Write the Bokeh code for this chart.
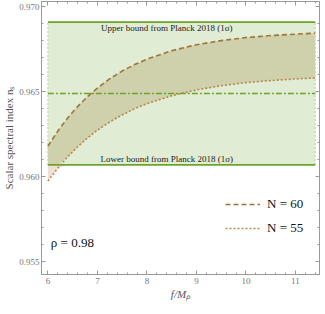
import numpy as np
from bokeh.plotting import figure
from bokeh.models import (Range1d, LinearAxis, FixedTicker, NumeralTickFormatter,
                          Legend, LegendItem, CustomJSTickFormatter)
from bokeh.core.properties import value
from bokeh.embed import file_html
from bokeh.resources import INLINE

# ---- data ----
f_over_MP = [6.0, 6.2, 6.4, 6.6, 6.8, 7.0, 7.25, 7.5, 7.75, 8.0, 8.5, 9.0, 9.5, 10.0, 10.5, 11.0, 11.4]
ns_N60 = [0.9618, 0.96269, 0.96346, 0.96413, 0.96472, 0.96522, 0.96577, 0.96622, 0.9666, 0.96692,
          0.96742, 0.96777, 0.96801, 0.96819, 0.96831, 0.96839, 0.96845]
ns_N55 = [0.95975, 0.96051, 0.96118, 0.96177, 0.96228, 0.96274, 0.96323, 0.96364, 0.964, 0.9643,
          0.96477, 0.96511, 0.96536, 0.96554, 0.96566, 0.96576, 0.96581]
planck_central = 0.9649
planck_sigma = 0.0042
x_min, x_max = 6.0, 11.4
rho_label = "ρ = 0.98"
upper_label = "Upper bound from Planck 2018 (1σ)"
lower_label = "Lower bound from Planck 2018 (1σ)"
x_ticks = [6, 7, 8, 9, 10, 11]
y_ticks = [0.955, 0.960, 0.965, 0.970]

upper = planck_central + planck_sigma
lower = planck_central - planck_sigma

GREEN = "#6ba42a"
FILL_GREEN = "#e0ecd3"
BAND = "#cfd0ac"
BAND_LOW = "#f0e0d4"
C60 = "#9c7538"
C55 = "#b9864c"
SERIF = "Liberation Serif"

p = figure(frame_width=278, frame_height=273, output_backend="svg", toolbar_location=None,
           x_range=Range1d(5.871, 11.486), y_range=Range1d(0.954253, 0.970312),
           min_border_left=37, min_border_right=2, min_border_top=1, min_border_bottom=31)
p.grid.visible = False
p.outline_line_color = "#999999"
p.background_fill_color = "white"
p.border_fill_color = "white"

# green Planck band
p.quad(left=[x_min], right=[x_max], bottom=[lower], top=[upper], fill_color=FILL_GREEN, line_color=None)

x = np.array(f_over_MP)
a60 = np.array(ns_N60)
a55 = np.array(ns_N55)
# band between curves: part below the lower bound (pinkish) and inside the green band (olive)
p.varea(x=x, y1=np.minimum(a55, lower), y2=np.minimum(a60, lower), fill_color=BAND_LOW)
p.varea(x=x, y1=np.maximum(a55, lower), y2=np.maximum(a60, lower), fill_color=BAND)

# bounds
p.segment(x0=[x_min, x_max], x1=[x_min, x_max], y0=[lower, lower], y1=[upper, upper],
          line_color="#c3dba8", line_width=1.2, line_dash="2 2")
p.segment(x0=[x_min, x_min], x1=[x_max, x_max], y0=[upper, lower], y1=[upper, lower],
          line_color=GREEN, line_width=1.6)
p.segment(x0=[x_min], x1=[x_max], y0=[planck_central], y1=[planck_central],
          line_color=GREEN, line_width=1.6, line_dash="6 2 2 2")

r60 = p.line(x, a60, line_color=C60, line_width=1.6, line_dash="5 3")
r55 = p.line(x, a55, line_color=C55, line_width=1.6, line_dash="2 2")

# texts
p.text(x=[8.4], y=[upper - 0.00036], text=[upper_label], text_align="center", text_baseline="middle",
       text_font=value(SERIF), text_font_size="9px", text_color="#222222")
p.text(x=[8.4], y=[lower + 0.00032], text=[lower_label], text_align="center", text_baseline="middle",
       text_font=value(SERIF), text_font_size="9px", text_color="#222222")
p.text(x=[6.06], y=[0.95612], text=[rho_label], text_align="left", text_baseline="middle",
       text_font=value(SERIF), text_font_size="13px", text_color="#111111")

legend = Legend(items=[LegendItem(label="N = 60", renderers=[r60]),
                       LegendItem(label="N = 55", renderers=[r55])],
                location=(184, 36), background_fill_alpha=0, border_line_alpha=0,
                glyph_width=35, glyph_height=20, label_height=20, spacing=4,
                padding=0, margin=0, label_standoff=7,
                label_text_font=SERIF, label_text_font_size="13px", label_text_color="#111111")
p.add_layout(legend, "center")

# axes
def style(ax, labels=True):
    ax.axis_line_color = "#999999"
    ax.major_tick_line_color = "#999999"
    ax.minor_tick_line_color = "#999999"
    ax.major_tick_in = 4
    ax.major_tick_out = 0
    ax.minor_tick_in = 2
    ax.minor_tick_out = 0
    ax.major_label_text_font = SERIF
    ax.major_label_text_color = "#777777"
    if labels:
        ax.major_label_text_font_size = "9px"
        ax.major_label_standoff = 3
    else:
        ax.major_label_text_font_size = "1px"
        ax.major_label_standoff = 0
        ax.formatter = CustomJSTickFormatter(code="return ''")

xminor = list(np.arange(5.8, 11.61, 0.2))
yminor = list(np.arange(0.954, 0.9711, 0.001))

p.xaxis.ticker = FixedTicker(ticks=x_ticks, minor_ticks=xminor)
p.yaxis.ticker = FixedTicker(ticks=y_ticks, minor_ticks=yminor)
p.yaxis.formatter = NumeralTickFormatter(format="0.000")
style(p.xaxis[0])
style(p.yaxis[0])
p.yaxis.major_label_standoff = 2
p.xaxis.axis_label = "f/Mₚ"
p.xaxis.axis_label_text_font_style = "italic"
p.yaxis.axis_label = "Scalar spectral index nₛ"
p.yaxis.axis_label_text_font_style = "normal"
for ax in (p.xaxis[0], p.yaxis[0]):
    ax.axis_label_text_font = SERIF
    ax.axis_label_text_font_size = "11px"
    ax.axis_label_text_color = "#555555"
    ax.axis_label_standoff = 1

top = LinearAxis(ticker=FixedTicker(ticks=x_ticks, minor_ticks=xminor))
right = LinearAxis(ticker=FixedTicker(ticks=y_ticks, minor_ticks=yminor))
style(top, labels=False)
style(right, labels=False)
p.add_layout(top, "above")
p.add_layout(right, "right")

open("out.html", "w").write(file_html(p, INLINE))
